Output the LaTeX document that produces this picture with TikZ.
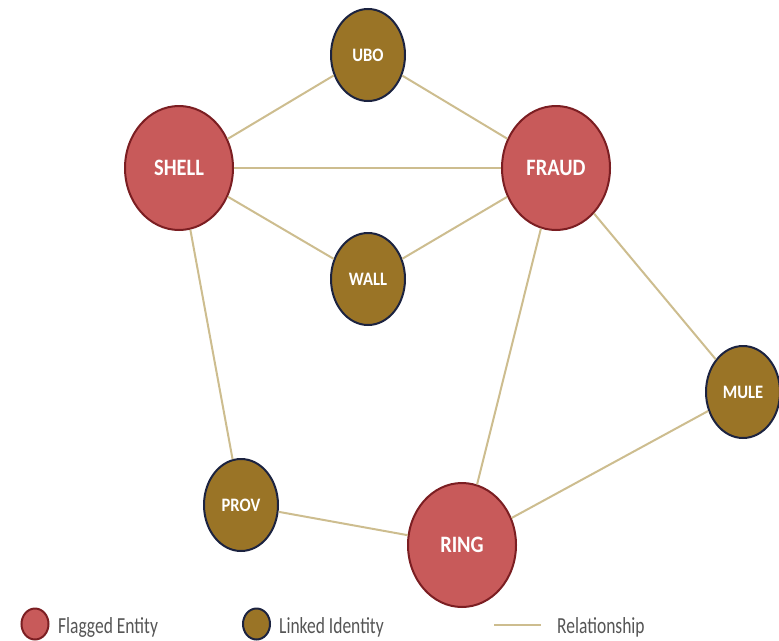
\documentclass[tikz,border=0pt]{standalone}
\usepackage{fontspec}
\setmainfont{Carlito}
\usetikzlibrary{shapes.geometric}
\definecolor{flagfill}{HTML}{C85A5A}
\definecolor{flagdraw}{HTML}{7B1E22}
\definecolor{linkfill}{HTML}{9A7426}
\definecolor{linkdraw}{HTML}{1C2340}
\definecolor{relcol}{HTML}{CDBD8F}
\definecolor{legtext}{HTML}{555555}
\newcommand{\nodescale}[1]{\scalebox{0.87}[1]{#1}}
\newcommand{\legscale}[1]{\scalebox{0.76}[1]{#1}}
\tikzset{
  flagged/.style={ellipse, fill=flagfill, draw=flagdraw, line width=2pt, minimum width=108pt, minimum height=124pt, inner sep=0pt, text=white, font=\bfseries\fontsize{23.5}{26}\selectfont},
  linked/.style={ellipse, fill=linkfill, draw=linkdraw, line width=2pt, minimum width=74pt, minimum height=92pt, inner sep=0pt, text=white, font=\bfseries\fontsize{19}{21}\selectfont},
  rel/.style={draw=relcol, line width=2pt},
  legflag/.style={ellipse, fill=flagfill, draw=flagdraw, line width=2pt, minimum width=27pt, minimum height=31pt, inner sep=0pt},
  leglink/.style={ellipse, fill=linkfill, draw=linkdraw, line width=2pt, minimum width=27pt, minimum height=31pt, inner sep=0pt},
  legtxt/.style={anchor=base west, text=legtext, font=\fontsize{23}{25}\selectfont, inner sep=0pt}
}
\begin{document}
\begin{tikzpicture}[x=1pt,y=-1pt]
\useasboundingbox (0,0) rectangle (779,640);
\node[linked] (ubo) at (368,55) {\nodescale{UBO}};
\node[flagged] (shell) at (179,168) {\nodescale{SHELL}};
\node[flagged] (fraud) at (556,168) {\nodescale{FRAUD}};
\node[linked] (wall) at (368,279) {\nodescale{WALL}};
\node[linked] (mule) at (743,392) {\nodescale{MULE}};
\node[linked] (prov) at (241,505) {\nodescale{PROV}};
\node[flagged] (ring) at (462,545) {\nodescale{RING}};
\draw[rel] (ubo) -- (shell);
\draw[rel] (ubo) -- (fraud);
\draw[rel] (shell) -- (fraud);
\draw[rel] (shell) -- (wall);
\draw[rel] (wall) -- (fraud);
\draw[rel] (shell) -- (prov);
\draw[rel] (fraud) -- (ring);
\draw[rel] (fraud) -- (mule);
\draw[rel] (mule) -- (ring);
\draw[rel] (prov) -- (ring);
\node[legflag] (lf) at (35,624) {};
\node[legtxt] (lft) at (58,633) {\legscale{Flagged Entity}};
\node[leglink] (ll) at (256.5,624) {};
\node[legtxt] (llt) at (279,633) {\legscale{Linked Identity}};
\coordinate (ra) at (494,625);
\coordinate (rb) at (541,625);
\draw[rel] (ra) -- (rb);
\node[legtxt] (rlt) at (557,633) {\legscale{Relationship}};
\end{tikzpicture}
\end{document}
